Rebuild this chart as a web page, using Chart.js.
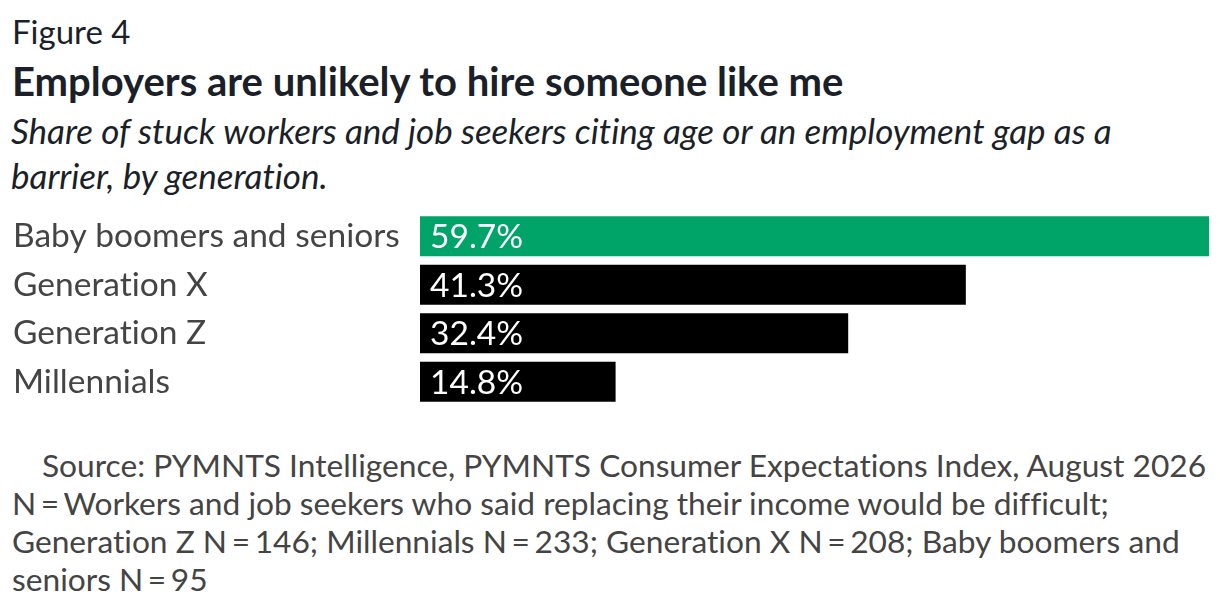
<!DOCTYPE html>
<html>
<head>
<meta charset="utf-8">
<script src="https://cdn.jsdelivr.net/npm/chart.js@4"></script>
<style>
  html, body { margin: 0; padding: 0; background: #fff; }
  body { width: 1220px; height: 608px; position: relative; overflow: hidden; font-family: Lato, "Open Sans", sans-serif; font-variant-ligatures: none; }
  .fig { position: absolute; left: 12px; top: 11px; font-size: 33px; line-height: 40px; color: #1a1f29; white-space: nowrap; }
  .title { position: absolute; left: 12px; top: 58px; font-size: 40px; line-height: 47px; font-weight: bold; color: #1a1f29; white-space: nowrap; }
  .sub { position: absolute; left: 11px; top: 108px; font-size: 35px; font-style: italic; color: #1a1f29; line-height: 45px; white-space: nowrap; }
  .chart { position: absolute; left: 0; top: 212px; width: 1220px; height: 194px; }
  .foot { position: absolute; left: 12px; top: 446px; font-size: 31.7px; color: #444; line-height: 38px; white-space: nowrap; }
  .foot .first { padding-left: 30px; }
  .foot .eq { margin: 0 -3.5px; }
</style>
</head>
<body>
<div class="fig">Figure 4</div>
<div class="title">Employers are unlikely to hire someone like me</div>
<div class="sub">Share of stuck workers and job seekers citing age or an employment gap as a<br>barrier, by generation.</div>
<div class="chart"><canvas id="myChart"></canvas></div>
<div class="foot"><span class="first">Source: PYMNTS Intelligence, PYMNTS Consumer Expectations Index, August 2026</span><br>N <span class="eq">=</span> Workers and job seekers who said replacing their income would be difficult;<br>Generation Z N <span class="eq">=</span> 146; Millennials N <span class="eq">=</span> 233; Generation X N <span class="eq">=</span> 208; Baby boomers and<br>seniors N <span class="eq">=</span> 95</div>
<script>
const generations = ['Baby boomers and seniors', 'Generation X', 'Generation Z', 'Millennials'];
const shares = [59.7, 41.3, 32.4, 14.8];
const barColors = ['#00a468', '#000000', '#000000', '#000000'];

// sin ligaduras en el canvas (letterSpacing distinto de cero las desactiva)
const noLigatures = {
    id: 'noLigatures',
    beforeDraw(chart) {
        chart.ctx.letterSpacing = '0.01px';
    }
};

// etiquetas blancas dentro de cada barra
const valueLabels = {
    id: 'valueLabels',
    afterDatasetsDraw(chart) {
        const ctx = chart.ctx;
        const meta = chart.getDatasetMeta(0);
        ctx.save();
        ctx.fillStyle = '#ffffff';
        ctx.font = '33.5px Lato';
        ctx.textBaseline = 'middle';
        meta.data.forEach((bar, i) => {
            ctx.fillText(shares[i].toFixed(1) + '%', bar.base + 10, bar.y + 1);
        });
        ctx.restore();
    }
};

const ctx = document.getElementById('myChart').getContext('2d');
new Chart(ctx, {
    type: 'bar',
    data: {
        labels: generations,
        datasets: [{
            data: shares,
            backgroundColor: barColors,
            borderWidth: 0,
            barPercentage: 0.825,
            categoryPercentage: 1
        }]
    },
    options: {
        indexAxis: 'y',
        responsive: true,
        maintainAspectRatio: false,
        animation: false,
        layout: { padding: { left: 13, right: 11, top: 0, bottom: 0 } },
        plugins: { legend: { display: false }, tooltip: { enabled: false } },
        scales: {
            x: { display: false, min: 0, max: 59.7 },
            y: {
                grid: { display: false },
                border: { display: false },
                afterFit(scale) {
                    scale.width = 407;
                    scale.paddingTop = 0;
                    scale.paddingBottom = 0;
                },
                ticks: {
                    crossAlign: 'far',
                    color: '#444444',
                    font: { family: 'Lato', size: 33.5 }
                }
            }
        }
    },
    plugins: [noLigatures, valueLabels]
});
</script>
</body>
</html>
